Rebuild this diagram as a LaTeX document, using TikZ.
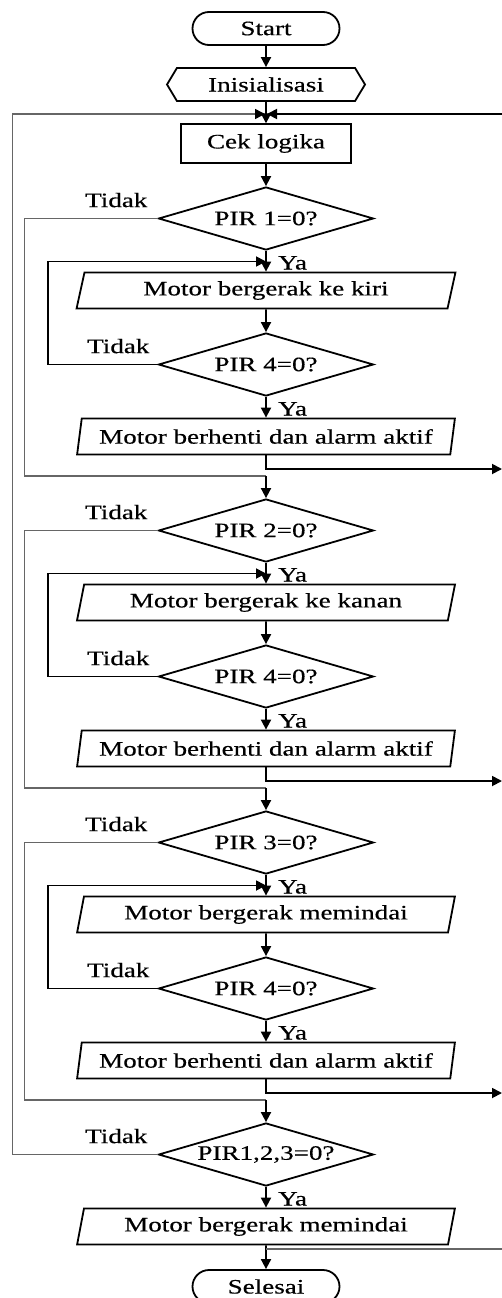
\documentclass[tikz,border=0pt]{standalone}
\usepackage{fontspec}
\setmainfont{Liberation Serif}[FakeStretch=1.32,FakeBold=0.4]
\usetikzlibrary{shapes.geometric,shapes.misc,shapes.symbols,arrows.meta}
\begin{document}
\begin{tikzpicture}[x=1pt,y=-1pt,>={Triangle[length=10pt,width=10pt]},
  every node/.style={font=\fontsize{20.5}{23}\selectfont},
  term/.style={rounded rectangle,draw,line width=1.8pt,minimum width=147pt,minimum height=33pt,inner sep=0pt},
  prep/.style={signal,signal to=west and east,signal pointer angle=118,draw,line width=1.8pt,minimum width=198pt,minimum height=33pt,inner sep=0pt},
  proc/.style={rectangle,draw,line width=1.4pt,minimum width=170pt,minimum height=39pt,inner sep=0pt},
  dec/.style={diamond,draw,line width=1.8pt,aspect=3.4,minimum width=215pt,minimum height=63pt,inner sep=0pt},
  io/.style={trapezium,trapezium left angle=74,trapezium right angle=106,trapezium stretches=true,draw,line width=1.8pt,minimum width=379pt,minimum height=36pt,inner sep=0pt},
  lbl/.style={inner sep=0pt},
  flow/.style={draw,line width=1.8pt},
  loop/.style={draw,line width=1.5pt,black!60}]
\useasboundingbox (0,0) rectangle (502,1298);
% start and setup
\node[term] (start) at (266,28.5) {Start};
\node[prep] (init) at (266,84.5) {Inisialisasi};
\node[proc] (cek) at (266,143.5) {Cek logika};
\coordinate (j0) at (266,114);
\coordinate (rtop) at (502,114);
% one block for each PIR sensor
\foreach \i/\Y/\txt in {1/218.5/ke kiri, 2/530.5/ke kanan, 3/842.5/memindai} {
  \node[dec] (d\i) at (266,\Y) {PIR \i=0?};
  \node[io] (ma\i) at (266,\Y+72) {Motor bergerak \txt};
  \node[dec] (db\i) at (266,\Y+146) {PIR 4=0?};
  \node[io] (mb\i) at (266,\Y+218) {Motor berhenti dan alarm aktif};
  \coordinate (in\i) at (266,\Y+43);
  \coordinate (out\i) at (502,\Y+250.5);
  \coordinate (jn\i) at (266,\Y+257.5);
  \node[lbl,anchor=south east] (td\i) at ([xshift=-10pt,yshift=11pt]d\i.west) {Tidak};
  \node[lbl,anchor=south east] (tb\i) at ([xshift=-8pt,yshift=11pt]db\i.west) {Tidak};
  \node[lbl,anchor=north west] (ya\i) at ([xshift=12pt,yshift=-5pt]d\i.south) {Ya};
  \node[lbl,anchor=north west] (yb\i) at ([xshift=12pt,yshift=-5pt]db\i.south) {Ya};
}
% last check and end
\node[dec] (d4) at (266,1154.5) {PIR1,2,3=0?};
\node[io] (m4) at (266,1226.5) {Motor bergerak memindai};
\node[term] (sel) at (266,1286.5) {Selesai};
\node[lbl,anchor=south east] (td4) at ([xshift=-10pt,yshift=11pt]d4.west) {Tidak};
\node[lbl,anchor=north west] (ya4) at ([xshift=12pt,yshift=-5pt]d4.south) {Ya};
\coordinate (jb) at (266,1249);
\coordinate (rbot) at (502,1249);
% connectors
\draw[flow,->] (start) -- (init);
\draw[flow,->] (init) -- (cek);
\draw[flow,->] (cek) -- (d1);
\draw[loop,-{Triangle[length=10pt,width=10pt,black]},shorten >=1pt] (d4.west) -- ++(-145,0) |- (j0);
\draw[flow,->,shorten >=1pt] (rtop) -- (j0);
\foreach \i/\n in {1/2,2/3,3/4} {
  \draw[flow,->] (d\i) -- (ma\i);
  \draw[flow,->] (ma\i) -- (db\i);
  \draw[flow,->] (db\i) -- (mb\i);
  \draw[flow,->] (db\i.west) -- ++(-110,0) |- (in\i);
  \draw[flow,->] (mb\i.south) |- (out\i);
  \draw[loop] (d\i.west) -- ++(-133,0) |- (jn\i);
  \draw[flow,->] (jn\i) -- (d\n);
}
\draw[flow,->] (d4) -- (m4);
\draw[flow,->] (m4) -- (sel);
\draw[loop] (rbot) -- (jb);
\end{tikzpicture}
\end{document}
